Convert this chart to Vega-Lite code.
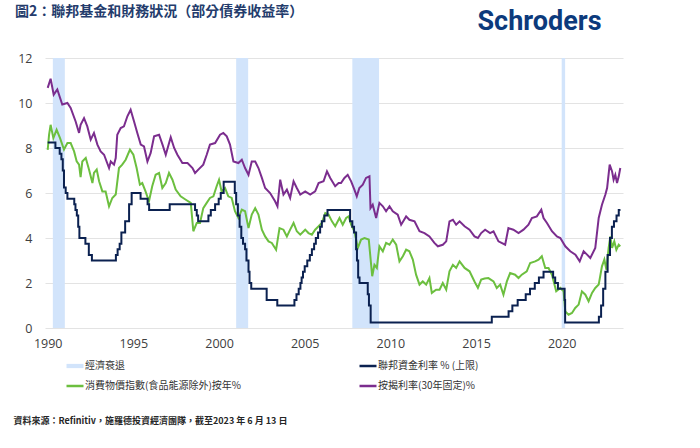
{
  "$schema": "https://vega.github.io/schema/vega-lite/v6.json",
  "width": 578,
  "height": 270,
  "autosize": {"type": "none"},
  "padding": {"left": 45, "top": 58, "right": 77, "bottom": 120},
  "background": "white",
  "title": {"text": "圖2：聯邦基金和財務狀況（部分債券收益率）", "anchor": "start", "frame": "group", "dx": -30, "offset": 0, "dy": 12, "font": "Noto Sans CJK TC", "fontSize": 14, "fontWeight": "bold", "color": "#243c6c"},
  "config": {
    "view": {"stroke": null},
    "axis": {"labelFont": "Open Sans", "labelFontSize": 12.5, "labelColor": "#404040", "ticks": false, "tickSize": 0, "domain": false},
    "axisX": {"grid": false, "labelPadding": 9, "titleX": -32, "titleY": 92, "titleAlign": "left", "titleBaseline": "middle", "titleFont": "Noto Sans CJK TC", "titleFontSize": 9, "titleFontWeight": "bold", "titleColor": "#262626"},
    "axisY": {"grid": true, "gridColor": "#e3e3e3", "gridWidth": 1, "labelPadding": 13, "titleAngle": 0, "titleX": 432, "titleY": -37, "titleAlign": "left", "titleBaseline": "middle", "titleFont": "Roboto", "titleFontSize": 27, "titleFontWeight": "bold", "titleColor": "#0c3a7c"},
    "legend": {"orient": "none", "legendX": 25, "legendY": 303, "direction": "horizontal", "columns": 2, "columnPadding": 113, "rowPadding": 10, "symbolType": "stroke", "symbolSize": 289, "symbolStrokeWidth": 2.5, "labelFont": "Noto Sans CJK TC", "labelFontSize": 10, "labelColor": "#333333", "labelOffset": 5, "labelLimit": 400, "padding": 0, "offset": 0}
  },
  "datasets": {
    "rec": [
      {"a": 1990.3, "b": 1991.0},
      {"a": 2001.0, "b": 2001.7},
      {"a": 2007.78, "b": 2009.34},
      {"a": 2020.0, "b": 2020.2}
    ],
    "lines": [
      {"s":"mtg","x":1990.0,"y":10.67},{"s":"mtg","x":1990.17,"y":11.08},{"s":"mtg","x":1990.35,"y":10.37},{"s":"mtg","x":1990.56,"y":10.6},{"s":"mtg","x":1990.85,"y":9.93},{"s":"mtg","x":1991.15,"y":10.0},{"s":"mtg","x":1991.34,"y":9.78},{"s":"mtg","x":1991.63,"y":9.18},{"s":"mtg","x":1991.83,"y":8.67},{"s":"mtg","x":1991.92,"y":9.03},{"s":"mtg","x":1992.12,"y":9.33},{"s":"mtg","x":1992.31,"y":8.96},{"s":"mtg","x":1992.51,"y":8.37},{"s":"mtg","x":1992.7,"y":8.67},{"s":"mtg","x":1992.9,"y":8.15},{"s":"mtg","x":1993.09,"y":7.85},{"s":"mtg","x":1993.29,"y":7.7},{"s":"mtg","x":1993.58,"y":7.11},{"s":"mtg","x":1993.68,"y":7.4},{"s":"mtg","x":1993.87,"y":7.26},{"s":"mtg","x":1993.97,"y":7.55},{"s":"mtg","x":1994.06,"y":8.59},{"s":"mtg","x":1994.26,"y":8.89},{"s":"mtg","x":1994.45,"y":8.96},{"s":"mtg","x":1994.65,"y":9.41},{"s":"mtg","x":1994.84,"y":9.7},{"s":"mtg","x":1995.04,"y":9.18},{"s":"mtg","x":1995.23,"y":8.67},{"s":"mtg","x":1995.43,"y":8.15},{"s":"mtg","x":1995.62,"y":8.07},{"s":"mtg","x":1995.82,"y":7.4},{"s":"mtg","x":1996.01,"y":7.78},{"s":"mtg","x":1996.21,"y":8.52},{"s":"mtg","x":1996.5,"y":8.59},{"s":"mtg","x":1996.7,"y":8.15},{"s":"mtg","x":1996.89,"y":7.7},{"s":"mtg","x":1997.18,"y":8.48},{"s":"mtg","x":1997.38,"y":8.0},{"s":"mtg","x":1997.57,"y":7.7},{"s":"mtg","x":1997.86,"y":7.33},{"s":"mtg","x":1998.16,"y":7.33},{"s":"mtg","x":1998.45,"y":7.11},{"s":"mtg","x":1998.6,"y":6.89},{"s":"mtg","x":1998.79,"y":7.04},{"s":"mtg","x":1999.08,"y":7.26},{"s":"mtg","x":1999.28,"y":7.7},{"s":"mtg","x":1999.47,"y":8.15},{"s":"mtg","x":1999.77,"y":8.22},{"s":"mtg","x":2000.06,"y":8.59},{"s":"mtg","x":2000.25,"y":8.67},{"s":"mtg","x":2000.45,"y":8.52},{"s":"mtg","x":2000.64,"y":8.15},{"s":"mtg","x":2000.84,"y":7.4},{"s":"mtg","x":2001.13,"y":7.33},{"s":"mtg","x":2001.33,"y":7.48},{"s":"mtg","x":2001.52,"y":7.11},{"s":"mtg","x":2001.72,"y":6.81},{"s":"mtg","x":2001.91,"y":7.4},{"s":"mtg","x":2002.11,"y":7.4},{"s":"mtg","x":2002.3,"y":7.11},{"s":"mtg","x":2002.5,"y":6.67},{"s":"mtg","x":2002.69,"y":6.22},{"s":"mtg","x":2002.98,"y":6.0},{"s":"mtg","x":2003.27,"y":5.63},{"s":"mtg","x":2003.41,"y":5.41},{"s":"mtg","x":2003.57,"y":6.59},{"s":"mtg","x":2003.76,"y":5.93},{"s":"mtg","x":2003.96,"y":6.15},{"s":"mtg","x":2004.15,"y":5.78},{"s":"mtg","x":2004.35,"y":6.52},{"s":"mtg","x":2004.54,"y":6.22},{"s":"mtg","x":2004.74,"y":5.93},{"s":"mtg","x":2005.03,"y":6.07},{"s":"mtg","x":2005.32,"y":5.93},{"s":"mtg","x":2005.61,"y":6.07},{"s":"mtg","x":2005.81,"y":6.44},{"s":"mtg","x":2006.1,"y":6.52},{"s":"mtg","x":2006.3,"y":6.96},{"s":"mtg","x":2006.49,"y":6.67},{"s":"mtg","x":2006.78,"y":6.3},{"s":"mtg","x":2006.98,"y":6.44},{"s":"mtg","x":2007.12,"y":6.44},{"s":"mtg","x":2007.32,"y":6.67},{"s":"mtg","x":2007.51,"y":6.81},{"s":"mtg","x":2007.71,"y":6.52},{"s":"mtg","x":2007.9,"y":6.15},{"s":"mtg","x":2008.04,"y":5.85},{"s":"mtg","x":2008.19,"y":6.22},{"s":"mtg","x":2008.39,"y":6.37},{"s":"mtg","x":2008.58,"y":6.67},{"s":"mtg","x":2008.78,"y":6.74},{"s":"mtg","x":2008.84,"y":5.33},{"s":"mtg","x":2008.97,"y":5.48},{"s":"mtg","x":2009.17,"y":4.89},{"s":"mtg","x":2009.36,"y":5.56},{"s":"mtg","x":2009.56,"y":5.41},{"s":"mtg","x":2009.75,"y":5.19},{"s":"mtg","x":2009.95,"y":5.41},{"s":"mtg","x":2010.14,"y":5.19},{"s":"mtg","x":2010.43,"y":5.04},{"s":"mtg","x":2010.63,"y":4.59},{"s":"mtg","x":2010.92,"y":4.96},{"s":"mtg","x":2011.11,"y":4.81},{"s":"mtg","x":2011.41,"y":4.74},{"s":"mtg","x":2011.7,"y":4.3},{"s":"mtg","x":2011.99,"y":4.22},{"s":"mtg","x":2012.28,"y":4.07},{"s":"mtg","x":2012.57,"y":3.78},{"s":"mtg","x":2012.77,"y":3.63},{"s":"mtg","x":2013.06,"y":3.7},{"s":"mtg","x":2013.26,"y":3.85},{"s":"mtg","x":2013.45,"y":4.74},{"s":"mtg","x":2013.65,"y":4.81},{"s":"mtg","x":2013.84,"y":4.59},{"s":"mtg","x":2014.04,"y":4.74},{"s":"mtg","x":2014.33,"y":4.52},{"s":"mtg","x":2014.62,"y":4.37},{"s":"mtg","x":2014.91,"y":4.07},{"s":"mtg","x":2015.11,"y":4.0},{"s":"mtg","x":2015.3,"y":4.22},{"s":"mtg","x":2015.53,"y":4.37},{"s":"mtg","x":2015.82,"y":4.22},{"s":"mtg","x":2016.02,"y":4.3},{"s":"mtg","x":2016.31,"y":3.85},{"s":"mtg","x":2016.7,"y":3.7},{"s":"mtg","x":2016.89,"y":4.44},{"s":"mtg","x":2017.18,"y":4.37},{"s":"mtg","x":2017.48,"y":4.22},{"s":"mtg","x":2017.77,"y":4.37},{"s":"mtg","x":2018.06,"y":4.59},{"s":"mtg","x":2018.26,"y":4.89},{"s":"mtg","x":2018.55,"y":4.96},{"s":"mtg","x":2018.81,"y":5.26},{"s":"mtg","x":2018.94,"y":4.89},{"s":"mtg","x":2019.14,"y":4.67},{"s":"mtg","x":2019.43,"y":4.3},{"s":"mtg","x":2019.72,"y":4.07},{"s":"mtg","x":2019.92,"y":4.0},{"s":"mtg","x":2020.21,"y":3.63},{"s":"mtg","x":2020.5,"y":3.41},{"s":"mtg","x":2020.8,"y":3.26},{"s":"mtg","x":2021.05,"y":2.96},{"s":"mtg","x":2021.28,"y":3.41},{"s":"mtg","x":2021.48,"y":3.26},{"s":"mtg","x":2021.67,"y":3.11},{"s":"mtg","x":2021.96,"y":3.56},{"s":"mtg","x":2022.16,"y":4.89},{"s":"mtg","x":2022.35,"y":5.48},{"s":"mtg","x":2022.55,"y":5.93},{"s":"mtg","x":2022.65,"y":6.22},{"s":"mtg","x":2022.8,"y":7.26},{"s":"mtg","x":2022.94,"y":6.96},{"s":"mtg","x":2023.03,"y":6.59},{"s":"mtg","x":2023.13,"y":6.81},{"s":"mtg","x":2023.23,"y":6.44},{"s":"mtg","x":2023.33,"y":6.74},{"s":"mtg","x":2023.42,"y":7.11},
      {"s":"cpi","x":1990.0,"y":7.92},{"s":"cpi","x":1990.08,"y":8.59},{"s":"cpi","x":1990.17,"y":9.03},{"s":"cpi","x":1990.33,"y":8.44},{"s":"cpi","x":1990.52,"y":8.81},{"s":"cpi","x":1990.72,"y":8.44},{"s":"cpi","x":1990.95,"y":7.93},{"s":"cpi","x":1991.15,"y":8.22},{"s":"cpi","x":1991.34,"y":8.22},{"s":"cpi","x":1991.54,"y":7.85},{"s":"cpi","x":1991.69,"y":7.41},{"s":"cpi","x":1991.83,"y":7.26},{"s":"cpi","x":1991.92,"y":6.7},{"s":"cpi","x":1992.02,"y":7.4},{"s":"cpi","x":1992.22,"y":7.56},{"s":"cpi","x":1992.41,"y":7.04},{"s":"cpi","x":1992.61,"y":6.44},{"s":"cpi","x":1992.7,"y":6.89},{"s":"cpi","x":1992.86,"y":7.04},{"s":"cpi","x":1993.0,"y":6.52},{"s":"cpi","x":1993.19,"y":6.07},{"s":"cpi","x":1993.38,"y":6.07},{"s":"cpi","x":1993.58,"y":5.41},{"s":"cpi","x":1993.77,"y":5.78},{"s":"cpi","x":1993.97,"y":5.93},{"s":"cpi","x":1994.16,"y":7.11},{"s":"cpi","x":1994.35,"y":7.26},{"s":"cpi","x":1994.55,"y":7.48},{"s":"cpi","x":1994.8,"y":7.93},{"s":"cpi","x":1995.0,"y":7.7},{"s":"cpi","x":1995.19,"y":7.11},{"s":"cpi","x":1995.38,"y":6.37},{"s":"cpi","x":1995.52,"y":6.44},{"s":"cpi","x":1995.71,"y":6.07},{"s":"cpi","x":1995.91,"y":5.63},{"s":"cpi","x":1996.1,"y":6.3},{"s":"cpi","x":1996.3,"y":6.81},{"s":"cpi","x":1996.5,"y":6.89},{"s":"cpi","x":1996.69,"y":6.22},{"s":"cpi","x":1996.89,"y":6.44},{"s":"cpi","x":1997.08,"y":6.89},{"s":"cpi","x":1997.28,"y":6.59},{"s":"cpi","x":1997.47,"y":6.15},{"s":"cpi","x":1997.76,"y":5.85},{"s":"cpi","x":1998.06,"y":5.7},{"s":"cpi","x":1998.35,"y":5.56},{"s":"cpi","x":1998.5,"y":4.3},{"s":"cpi","x":1998.7,"y":4.67},{"s":"cpi","x":1998.89,"y":4.67},{"s":"cpi","x":1999.08,"y":5.33},{"s":"cpi","x":1999.28,"y":5.56},{"s":"cpi","x":1999.47,"y":5.78},{"s":"cpi","x":1999.67,"y":5.85},{"s":"cpi","x":1999.86,"y":6.3},{"s":"cpi","x":2000.0,"y":6.59},{"s":"cpi","x":2000.15,"y":6.07},{"s":"cpi","x":2000.35,"y":6.22},{"s":"cpi","x":2000.54,"y":5.85},{"s":"cpi","x":2000.74,"y":5.78},{"s":"cpi","x":2000.93,"y":5.19},{"s":"cpi","x":2001.13,"y":4.89},{"s":"cpi","x":2001.33,"y":5.26},{"s":"cpi","x":2001.52,"y":5.19},{"s":"cpi","x":2001.72,"y":4.44},{"s":"cpi","x":2001.91,"y":5.04},{"s":"cpi","x":2002.11,"y":5.33},{"s":"cpi","x":2002.3,"y":5.04},{"s":"cpi","x":2002.5,"y":4.37},{"s":"cpi","x":2002.69,"y":4.07},{"s":"cpi","x":2002.89,"y":3.85},{"s":"cpi","x":2003.08,"y":3.78},{"s":"cpi","x":2003.33,"y":3.48},{"s":"cpi","x":2003.53,"y":4.44},{"s":"cpi","x":2003.76,"y":4.37},{"s":"cpi","x":2003.96,"y":4.07},{"s":"cpi","x":2004.15,"y":4.37},{"s":"cpi","x":2004.35,"y":4.67},{"s":"cpi","x":2004.54,"y":4.3},{"s":"cpi","x":2004.74,"y":4.15},{"s":"cpi","x":2005.03,"y":4.37},{"s":"cpi","x":2005.22,"y":4.22},{"s":"cpi","x":2005.42,"y":4.15},{"s":"cpi","x":2005.61,"y":4.37},{"s":"cpi","x":2005.81,"y":4.52},{"s":"cpi","x":2006.0,"y":4.67},{"s":"cpi","x":2006.2,"y":5.11},{"s":"cpi","x":2006.39,"y":5.04},{"s":"cpi","x":2006.59,"y":4.74},{"s":"cpi","x":2006.78,"y":4.52},{"s":"cpi","x":2007.03,"y":4.89},{"s":"cpi","x":2007.22,"y":4.59},{"s":"cpi","x":2007.42,"y":4.89},{"s":"cpi","x":2007.57,"y":4.96},{"s":"cpi","x":2007.71,"y":4.59},{"s":"cpi","x":2007.9,"y":4.3},{"s":"cpi","x":2008.1,"y":3.56},{"s":"cpi","x":2008.29,"y":3.93},{"s":"cpi","x":2008.49,"y":4.0},{"s":"cpi","x":2008.74,"y":3.93},{"s":"cpi","x":2008.94,"y":2.3},{"s":"cpi","x":2009.07,"y":2.81},{"s":"cpi","x":2009.21,"y":2.67},{"s":"cpi","x":2009.36,"y":3.63},{"s":"cpi","x":2009.56,"y":3.41},{"s":"cpi","x":2009.75,"y":3.78},{"s":"cpi","x":2009.95,"y":3.7},{"s":"cpi","x":2010.14,"y":3.93},{"s":"cpi","x":2010.34,"y":3.7},{"s":"cpi","x":2010.53,"y":2.96},{"s":"cpi","x":2010.73,"y":3.19},{"s":"cpi","x":2010.92,"y":3.48},{"s":"cpi","x":2011.11,"y":3.41},{"s":"cpi","x":2011.31,"y":3.04},{"s":"cpi","x":2011.5,"y":2.37},{"s":"cpi","x":2011.7,"y":1.93},{"s":"cpi","x":2011.89,"y":2.07},{"s":"cpi","x":2012.09,"y":1.93},{"s":"cpi","x":2012.28,"y":2.22},{"s":"cpi","x":2012.42,"y":1.56},{"s":"cpi","x":2012.67,"y":1.7},{"s":"cpi","x":2012.87,"y":1.7},{"s":"cpi","x":2013.06,"y":2.0},{"s":"cpi","x":2013.26,"y":1.7},{"s":"cpi","x":2013.45,"y":2.52},{"s":"cpi","x":2013.65,"y":2.81},{"s":"cpi","x":2013.84,"y":2.67},{"s":"cpi","x":2014.04,"y":2.96},{"s":"cpi","x":2014.33,"y":2.67},{"s":"cpi","x":2014.62,"y":2.52},{"s":"cpi","x":2014.91,"y":2.07},{"s":"cpi","x":2015.11,"y":1.78},{"s":"cpi","x":2015.3,"y":2.15},{"s":"cpi","x":2015.5,"y":2.2},{"s":"cpi","x":2015.72,"y":2.22},{"s":"cpi","x":2016.02,"y":2.07},{"s":"cpi","x":2016.21,"y":1.78},{"s":"cpi","x":2016.41,"y":1.93},{"s":"cpi","x":2016.6,"y":1.48},{"s":"cpi","x":2016.8,"y":2.07},{"s":"cpi","x":2016.99,"y":2.44},{"s":"cpi","x":2017.28,"y":2.37},{"s":"cpi","x":2017.48,"y":2.22},{"s":"cpi","x":2017.67,"y":2.37},{"s":"cpi","x":2017.96,"y":2.52},{"s":"cpi","x":2018.16,"y":2.89},{"s":"cpi","x":2018.45,"y":2.96},{"s":"cpi","x":2018.65,"y":3.04},{"s":"cpi","x":2018.84,"y":3.19},{"s":"cpi","x":2019.04,"y":2.67},{"s":"cpi","x":2019.23,"y":2.67},{"s":"cpi","x":2019.43,"y":2.37},{"s":"cpi","x":2019.68,"y":1.63},{"s":"cpi","x":2019.92,"y":1.78},{"s":"cpi","x":2020.11,"y":1.63},{"s":"cpi","x":2020.21,"y":0.74},{"s":"cpi","x":2020.4,"y":0.59},{"s":"cpi","x":2020.6,"y":0.67},{"s":"cpi","x":2020.79,"y":0.89},{"s":"cpi","x":2020.99,"y":1.04},{"s":"cpi","x":2021.18,"y":1.63},{"s":"cpi","x":2021.38,"y":1.48},{"s":"cpi","x":2021.57,"y":1.19},{"s":"cpi","x":2021.77,"y":1.56},{"s":"cpi","x":2021.96,"y":1.78},{"s":"cpi","x":2022.16,"y":1.93},{"s":"cpi","x":2022.35,"y":2.74},{"s":"cpi","x":2022.49,"y":3.04},{"s":"cpi","x":2022.61,"y":2.59},{"s":"cpi","x":2022.74,"y":3.56},{"s":"cpi","x":2022.84,"y":4.07},{"s":"cpi","x":2022.94,"y":3.56},{"s":"cpi","x":2023.07,"y":3.85},{"s":"cpi","x":2023.19,"y":3.48},{"s":"cpi","x":2023.33,"y":3.7},{"s":"cpi","x":2023.42,"y":3.63},
      {"s":"fed","x":1990.0,"y":8.25},{"s":"fed","x":1990.45,"y":8.0},{"s":"fed","x":1990.7,"y":7.75},{"s":"fed","x":1990.8,"y":7.5},{"s":"fed","x":1990.88,"y":7.0},{"s":"fed","x":1990.95,"y":6.25},{"s":"fed","x":1991.05,"y":6.0},{"s":"fed","x":1991.15,"y":5.75},{"s":"fed","x":1991.55,"y":5.5},{"s":"fed","x":1991.62,"y":5.25},{"s":"fed","x":1991.7,"y":5.0},{"s":"fed","x":1991.78,"y":4.5},{"s":"fed","x":1991.85,"y":4.0},{"s":"fed","x":1992.2,"y":3.75},{"s":"fed","x":1992.4,"y":3.25},{"s":"fed","x":1992.58,"y":3.0},{"s":"fed","x":1993.98,"y":3.25},{"s":"fed","x":1994.08,"y":3.5},{"s":"fed","x":1994.2,"y":3.75},{"s":"fed","x":1994.3,"y":4.25},{"s":"fed","x":1994.52,"y":4.75},{"s":"fed","x":1994.75,"y":5.5},{"s":"fed","x":1994.9,"y":6.0},{"s":"fed","x":1995.42,"y":5.75},{"s":"fed","x":1995.83,"y":5.5},{"s":"fed","x":1995.92,"y":5.25},{"s":"fed","x":1997.12,"y":5.5},{"s":"fed","x":1998.6,"y":5.25},{"s":"fed","x":1998.7,"y":5.0},{"s":"fed","x":1998.78,"y":4.75},{"s":"fed","x":1999.38,"y":5.0},{"s":"fed","x":1999.52,"y":5.25},{"s":"fed","x":1999.77,"y":5.5},{"s":"fed","x":1999.98,"y":5.75},{"s":"fed","x":2000.1,"y":6.0},{"s":"fed","x":2000.27,"y":6.5},{"s":"fed","x":2000.92,"y":6.0},{"s":"fed","x":2001.0,"y":5.5},{"s":"fed","x":2001.1,"y":5.0},{"s":"fed","x":2001.2,"y":4.5},{"s":"fed","x":2001.3,"y":4.0},{"s":"fed","x":2001.4,"y":3.75},{"s":"fed","x":2001.52,"y":3.5},{"s":"fed","x":2001.6,"y":3.0},{"s":"fed","x":2001.72,"y":2.5},{"s":"fed","x":2001.78,"y":2.0},{"s":"fed","x":2001.88,"y":1.75},{"s":"fed","x":2002.78,"y":1.25},{"s":"fed","x":2003.4,"y":1.0},{"s":"fed","x":2004.4,"y":1.25},{"s":"fed","x":2004.52,"y":1.5},{"s":"fed","x":2004.65,"y":1.75},{"s":"fed","x":2004.75,"y":2.0},{"s":"fed","x":2004.82,"y":2.25},{"s":"fed","x":2004.9,"y":2.5},{"s":"fed","x":2005.0,"y":2.75},{"s":"fed","x":2005.15,"y":3.0},{"s":"fed","x":2005.3,"y":3.25},{"s":"fed","x":2005.42,"y":3.5},{"s":"fed","x":2005.55,"y":3.75},{"s":"fed","x":2005.65,"y":4.0},{"s":"fed","x":2005.78,"y":4.25},{"s":"fed","x":2005.9,"y":4.5},{"s":"fed","x":2006.0,"y":4.75},{"s":"fed","x":2006.15,"y":5.0},{"s":"fed","x":2006.33,"y":5.25},{"s":"fed","x":2007.65,"y":4.75},{"s":"fed","x":2007.78,"y":4.5},{"s":"fed","x":2007.88,"y":4.25},{"s":"fed","x":2008.0,"y":3.5},{"s":"fed","x":2008.05,"y":3.0},{"s":"fed","x":2008.12,"y":2.25},{"s":"fed","x":2008.2,"y":2.0},{"s":"fed","x":2008.68,"y":1.5},{"s":"fed","x":2008.75,"y":1.0},{"s":"fed","x":2008.85,"y":0.25},{"s":"fed","x":2015.92,"y":0.5},{"s":"fed","x":2016.9,"y":0.75},{"s":"fed","x":2017.12,"y":1.0},{"s":"fed","x":2017.43,"y":1.25},{"s":"fed","x":2017.9,"y":1.5},{"s":"fed","x":2018.15,"y":1.75},{"s":"fed","x":2018.43,"y":2.0},{"s":"fed","x":2018.67,"y":2.25},{"s":"fed","x":2018.94,"y":2.5},{"s":"fed","x":2019.5,"y":2.25},{"s":"fed","x":2019.62,"y":2.0},{"s":"fed","x":2019.78,"y":1.75},{"s":"fed","x":2020.17,"y":1.25},{"s":"fed","x":2020.2,"y":0.25},{"s":"fed","x":2022.17,"y":0.5},{"s":"fed","x":2022.3,"y":1.0},{"s":"fed","x":2022.42,"y":1.75},{"s":"fed","x":2022.55,"y":2.5},{"s":"fed","x":2022.68,"y":3.25},{"s":"fed","x":2022.82,"y":4.0},{"s":"fed","x":2022.93,"y":4.5},{"s":"fed","x":2023.05,"y":4.75},{"s":"fed","x":2023.2,"y":5.0},{"s":"fed","x":2023.33,"y":5.25},{"s":"fed","x":2023.43,"y":5.25}
    ]
  },
  "layer": [
    {
      "data": {"name": "rec"},
      "mark": {"type": "rect", "color": "#d2e4fb"},
      "encoding": {
        "x": {"field": "a", "type": "quantitative", "title": "資料來源：Refinitiv，施羅德投資經濟團隊，截至2023 年 6 月 13 日", "scale": {"domain": [1989.842, 2023.578], "nice": false, "zero": false}, "axis": {"values": [1990, 1995, 2000, 2005, 2010, 2015, 2020], "format": "d"}},
        "x2": {"field": "b"}
      }
    },
    {
      "data": {"name": "lines"},
      "transform": [{"filter": "datum.s !== 'fed'"}],
      "mark": {"type": "line", "strokeWidth": 2, "interpolate": "linear"},
      "encoding": {
        "x": {"field": "x", "type": "quantitative", "title": "資料來源：Refinitiv，施羅德投資經濟團隊，截至2023 年 6 月 13 日"},
        "y": {"field": "y", "type": "quantitative", "title": "Schroders", "scale": {"domain": [0, 12], "nice": false}, "axis": {"values": [0, 2, 4, 6, 8, 10, 12]}},
        "color": {"field": "s", "type": "nominal", "scale": {"domain": ["rec", "fed", "cpi", "mtg"], "range": ["#d2e4fb", "#0b2150", "#6cbf3f", "#7b2d8e"]},
          "legend": {"title": null, "labelExpr": "datum.value === 'rec' ? '經濟衰退' : datum.value === 'fed' ? '聯邦資金利率 % (上限)' : datum.value === 'cpi' ? '消費物價指數(食品能源除外)按年%' : '按揭利率(30年固定)%'",
            "encode": {"symbols": {"update": {"shape": {"signal": "datum.value === 'rec' ? 'M-1,-0.25H1V0.25H-1Z' : 'stroke'"}, "fill": {"signal": "datum.value === 'rec' ? '#d2e4fb' : 'transparent'"}, "strokeWidth": {"signal": "datum.value === 'rec' ? 0 : 2.5"}}}}}},
        "detail": {"field": "s"}
      }
    },
    {
      "data": {"name": "lines"},
      "transform": [{"filter": "datum.s === 'fed'"}],
      "mark": {"type": "line", "strokeWidth": 2, "interpolate": "step-after"},
      "encoding": {
        "x": {"field": "x", "type": "quantitative", "title": "資料來源：Refinitiv，施羅德投資經濟團隊，截至2023 年 6 月 13 日"},
        "y": {"field": "y", "type": "quantitative", "title": "Schroders"},
        "color": {"field": "s", "type": "nominal",
          "legend": {"title": null, "labelExpr": "datum.value === 'rec' ? '經濟衰退' : datum.value === 'fed' ? '聯邦資金利率 % (上限)' : datum.value === 'cpi' ? '消費物價指數(食品能源除外)按年%' : '按揭利率(30年固定)%'",
            "encode": {"symbols": {"update": {"shape": {"signal": "datum.value === 'rec' ? 'M-1,-0.25H1V0.25H-1Z' : 'stroke'"}, "fill": {"signal": "datum.value === 'rec' ? '#d2e4fb' : 'transparent'"}, "strokeWidth": {"signal": "datum.value === 'rec' ? 0 : 2.5"}}}}}}
      }
    }
  ]
}
